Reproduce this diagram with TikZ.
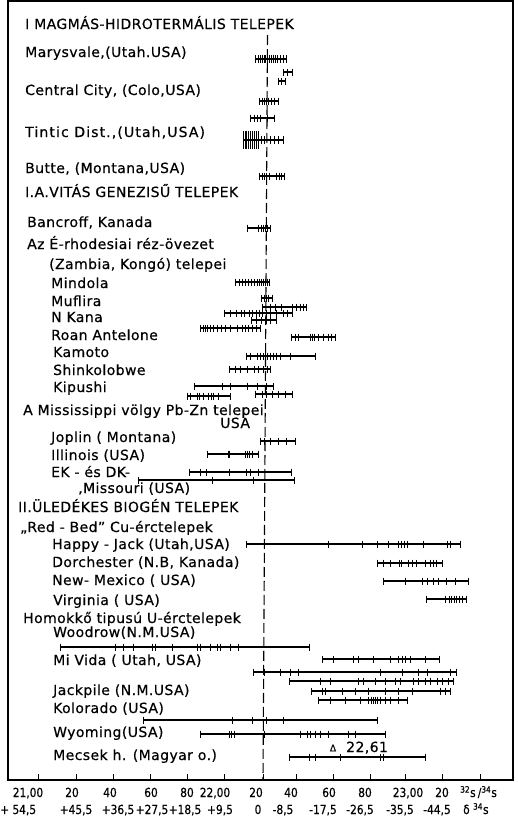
\documentclass[tikz,border=0pt]{standalone}
\usepackage{fontspec}
\setmainfont{DejaVu Sans}[LetterSpace=3, FakeBold=0.5]
\newfontfamily\numfont{DejaVu Sans}[FakeBold=0.5, FakeStretch=0.85]
\newcommand\databar[5][3.5]{%
  \draw[barline] (#3,#2) -- (#4,#2);
  \foreach \t in {#3,#4,#5} \draw[tk] (\t,#2-#1) -- (\t,#2+#1);
}
\begin{document}
\begin{tikzpicture}[x=1pt,y=-1pt,
  lbl/.style={anchor=base west, inner sep=0pt, font=\fontsize{14}{16}\selectfont},
  wide/.style={font=\fontsize{14}{16}\selectfont\addfontfeature{LetterSpace=8}},
  num/.style={anchor=base, inner sep=0pt, font=\numfont\fontsize{12.5}{14}\selectfont},
  barline/.style={line width=1.4pt},
  tk/.style={line width=1pt},
  frame/.style={line width=1.2pt},
  zeroline/.style={line width=1.1pt, dash pattern=on 10pt off 4pt}]
\useasboundingbox (0,0) rectangle (518,822);
% frame
\draw[frame] (8,1) rectangle (513,780);
\foreach \x in {38,76,113,150,187,224,263,296,333,370,405,442,480}
  \draw[tk] (\x,780) -- (\x,774);
\draw[zeroline] (267.5,35) -- (263,780);
% labels
\node[lbl] (t1) at (25,29) {I MAGMÁS-HIDROTERMÁLIS TELEPEK};
\node[lbl] (l1) at (25,57) {Marysvale,(Utah.USA)};
\node[lbl] (l2) at (25,95) {Central City, (Colo,USA)};
\node[lbl, wide] (l3) at (25,137) {Tintic Dist.,(Utah,USA)};
\node[lbl] (l4) at (25,173) {Butte, (Montana,USA)};
\node[lbl] (t2) at (25,197) {I.A.VITÁS GENEZISŰ TELEPEK};
\node[lbl] (l5) at (27,227) {Bancroff, Kanada};
\node[lbl] (l6) at (27,249) {Az É-rhodesiai réz-övezet};
\node[lbl] (l7) at (49,269) {(Zambia, Kongó) telepei};
\node[lbl] (l8) at (51,288) {Mindola};
\node[lbl] (l9) at (51,306) {Muflira};
\node[lbl] (l10) at (51,322) {N Kana};
\node[lbl] (l11) at (51,340) {Roan Antelone};
\node[lbl] (l12) at (53,357) {Kamoto};
\node[lbl] (l13) at (53,375) {Shinkolobwe};
\node[lbl] (l14) at (53,392) {Kipushi};
\node[lbl] (l15) at (23,415) {A Mississippi völgy Pb-Zn telepei};
\node[lbl] (l16) at (220,428) {USA};
\node[lbl] (l17) at (51,442) {Joplin ( Montana)};
\node[lbl] (l18) at (51,460) {Illinois (USA)};
\node[lbl] (l19) at (51,477) {EK - és DK-};
\node[lbl] (l20) at (78,493) {,Missouri (USA)};
\node[lbl] (t3) at (18,512) {II.ÜLEDÉKES BIOGÉN TELEPEK};
\node[lbl] (l21) at (20,532) {„Red - Bed” Cu-érctelepek};
\node[lbl] (l22) at (52,549) {Happy - Jack (Utah,USA)};
\node[lbl] (l23) at (52,567) {Dorchester (N.B, Kanada)};
\node[lbl] (l24) at (52,585) {New- Mexico ( USA)};
\node[lbl] (l25) at (53,605) {Virginia ( USA)};
\node[lbl] (l26) at (23,623) {Homokkő tipusú U-érctelepek};
\node[lbl] (l27) at (53,637) {Woodrow(N.M.USA)};
\node[lbl] (l28) at (53,665) {Mi Vida ( Utah, USA)};
\node[lbl] (l29) at (53,695) {Jackpile (N.M.USA)};
\node[lbl] (l30) at (53,713) {Kolorado (USA)};
\node[lbl] (l31) at (53,737) {Wyoming(USA)};
\node[lbl] (l32) at (53,760) {Mecsek h. (Magyar o.)};
% data bars: y, x1, x2, ticks
\databar[4]{59}{255}{286}{258,260,262,264,265,267,269,271,273,275,277,280,283}
\databar{72}{283}{292}{287}
\databar{81}{278}{285}{281}
\databar{101}{259}{278}{262,264,266,268,271,274}
\databar{118}{250}{274}{254,257,260,267}
\databar[9]{140}{243}{258}{245,246,248,250,252,254,256}
\databar[4]{140}{258}{283}{261,264,270,274,278}
\databar{176}{259}{284}{262,264,266,269,276,279,281}
\databar{228}{247}{270}{258,261,263,265,267}
\databar{282}{235}{269}{239,242,245,248,251,254,257,259,261,263,265,267}
\databar{298}{261}{272}{264,266,268}
\databar{307}{262}{306}{270,275,281,292,296,300,303}
\databar{313}{224}{292}{230,236,241,244,249,252,256,259,262,266,270,276,283,287}
\databar{320}{251}{276}{256,261,266,270}
\databar{328}{200}{260}{203,205,207,210,213,217,221,225,230,237,242,245,248,252,256}
\databar{337}{291}{335}{295,298,310,312,314,318,323,328,331}
\databar{356}{246}{315}{250,257,260,263,265,267,270,273,276,280,290}
\databar{369}{229}{270}{235,240,247,254,258,263,267}
\databar{386}{194}{273}{222,230,247,257,266}
\databar{396}{187}{230}{190,197,199,203,208,211,213,218}
\databar{394}{255}{292}{262,266,272,278,285}
\databar{441}{260}{295}{264,270,278,286}
\databar{454}{207}{258}{228,229,245,247,249,252}
\databar{472}{189}{291}{200,206,229,246,250,258}
\databar{480}{138}{294}{212,253}
\databar{544}{246}{460}{264,328,362,377,388,398,401,404,407,423,447,450}
\databar{563}{377}{442}{383,390,399,401,408,412,416,425,430,433,436}
\databar{581}{383}{468}{405,422,427,433,438,446,455}
\databar{599}{426}{466}{445,449,451,454,456,459,462}
\databar{647}{60}{309}{115,123,133,152,155,172,197,200,210,217,220,230,238}
\databar{659}{322}{439}{333,353,358,373,390,398,402,405,410,425}
\databar{672}{253}{456}{264,280,290,298,380,402,418,427,450}
\databar{681}{289}{453}{320,330,358,363,375,385,395,400,413,418,425,430,437,442,448}
\databar{691}{311}{450}{322,325,342,355,368,385,398,412,440,445}
\databar{700}{318}{407}{330,345,360,368,371,373,375,377,380,385,390,398}
\databar{720}{143}{377}{232,252,266,283}
\databar{734}{200}{385}{229,231,234,264,300,307,310,315,320,328,348,355}
\databar{757}{289}{425}{309,315,340,380,383}
\node[inner sep=0pt, font=\fontsize{9}{10}\selectfont] (tri) at (333,748) {Δ};
\node[lbl] (v) at (346,752) {22,61};
% axis numbers
\node[num] (a1) at (28,797) {21,00};
\node[num] (a2) at (72,797) {20};
\node[num] (a3) at (110,797) {40};
\node[num] (a4) at (151,797) {60};
\node[num] (a5) at (187,797) {80};
\node[num] (a6) at (215,797) {22,00};
\node[num] (a7) at (256,797) {20};
\node[num] (a8) at (291,797) {40};
\node[num] (a9) at (329,797) {60};
\node[num] (a10) at (365,797) {80};
\node[num] (a11) at (408,797) {23,00};
\node[num] (a12) at (442,797) {20};
\node[num, anchor=base west] (a13) at (460,797) {\textsuperscript{32}s\,/\textsuperscript{34}s};
\node[num, anchor=base west] (b1) at (0,814) {+ 54,5};
\node[num] (b2) at (76,814) {+45,5};
\node[num] (b3) at (118,814) {+36,5};
\node[num] (b4) at (152,814) {+27,5};
\node[num] (b5) at (185,814) {+18,5};
\node[num] (b6) at (220,814) {+9,5};
\node[num] (b7) at (258,814) {0};
\node[num] (b8) at (283,814) {-8,5};
\node[num] (b9) at (323,814) {-17,5};
\node[num] (b10) at (360,814) {-26,5};
\node[num] (b11) at (400,814) {-35,5};
\node[num] (b12) at (437,814) {-44,5};
\node[num, anchor=base west] (b13) at (463,814) {δ \textsuperscript{34}s};
\end{tikzpicture}
\end{document}
